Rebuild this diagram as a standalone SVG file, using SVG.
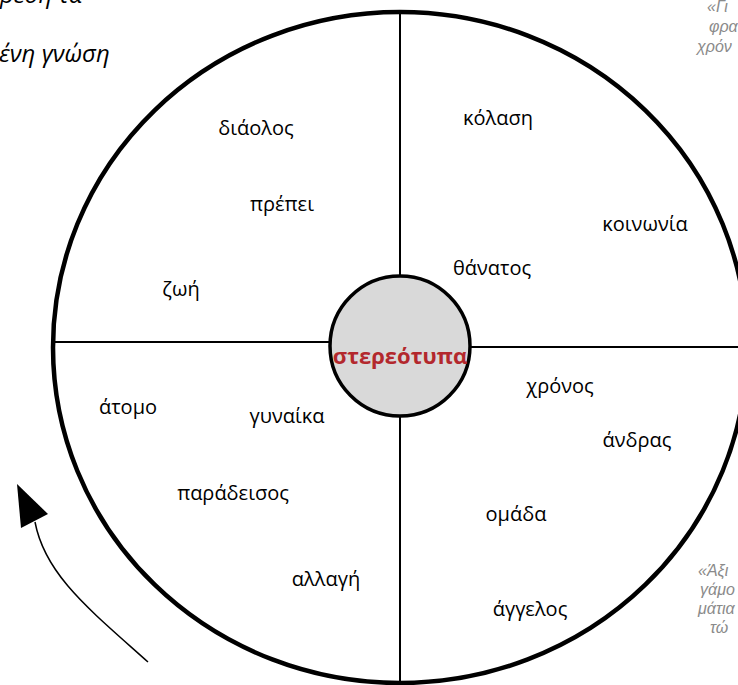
<svg xmlns="http://www.w3.org/2000/svg" width="738" height="685" viewBox="0 0 738 685">
<style>
.w{font-family:"Open Sans","Liberation Sans",sans-serif;font-size:20px;fill:#000;text-anchor:middle}
.note{font-family:"Liberation Sans","Open Sans",sans-serif;font-style:italic;font-size:16px;fill:#8a8a8a}
.side{font-family:"Open Sans","Liberation Sans",sans-serif;font-style:italic;font-size:24px;fill:#000}
.ln{stroke:#000;stroke-width:2;fill:none}
</style>
<rect width="738" height="685" fill="#fff"/>
<g id="wheel">
<ellipse cx="400" cy="347.5" rx="347" ry="335.5" fill="none" stroke="#000" stroke-width="4.5"/>
</g>
<g id="connectors">
<line class="ln" x1="53" y1="342" x2="331" y2="342"/>
<line class="ln" x1="469" y1="347" x2="740" y2="347"/>
<line class="ln" x1="400" y1="12" x2="400" y2="277"/>
<line class="ln" x1="400" y1="415" x2="400" y2="683"/>
<path d="M148,662 C90,610 45,575 35,522" fill="none" stroke="#000" stroke-width="1.5"/>
<polygon points="17,484 48,514 21,528" fill="#000"/>
</g>
<g id="center">
<circle cx="400" cy="346" r="70" fill="#d9d9d9" stroke="#000" stroke-width="3.5"/>
<text x="400" y="364" style="font-family:'Open Sans','Liberation Sans',sans-serif;font-weight:bold;font-size:22px;fill:#b3282d;text-anchor:middle">στερεότυπα</text>
</g>
<g id="q1">
<text class="w" x="256" y="135">διάολος</text>
<text class="w" x="282" y="211">πρέπει</text>
<text class="w" x="181" y="296">ζωή</text>
</g>
<g id="q2">
<text class="w" x="498" y="125">κόλαση</text>
<text class="w" x="645" y="231">κοινωνία</text>
<text class="w" x="492" y="275">θάνατος</text>
</g>
<g id="q3">
<text class="w" x="560" y="393">χρόνος</text>
<text class="w" x="637" y="447">άνδρας</text>
<text class="w" x="516" y="521">ομάδα</text>
<text class="w" x="530" y="616">άγγελος</text>
</g>
<g id="q4">
<text class="w" x="128" y="414">άτομο</text>
<text class="w" x="287" y="423">γυναίκα</text>
<text class="w" x="233" y="500">παράδεισος</text>
<text class="w" x="326" y="586">αλλαγή</text>
</g>
<g id="notes">
<text class="side" x="0" y="3">ρεση τα</text>
<text class="side" x="-1" y="62">ένη γνώση</text>
<text class="note" x="707" y="12">«Γι</text>
<text class="note" x="709" y="32">φρα</text>
<text class="note" x="697" y="52">χρόν</text>
<text class="note" x="698" y="576">«Άξι</text>
<text class="note" x="700" y="595">γάμο</text>
<text class="note" x="698" y="614">μάτια</text>
<text class="note" x="710" y="633">τώ</text>
</g>
</svg>
